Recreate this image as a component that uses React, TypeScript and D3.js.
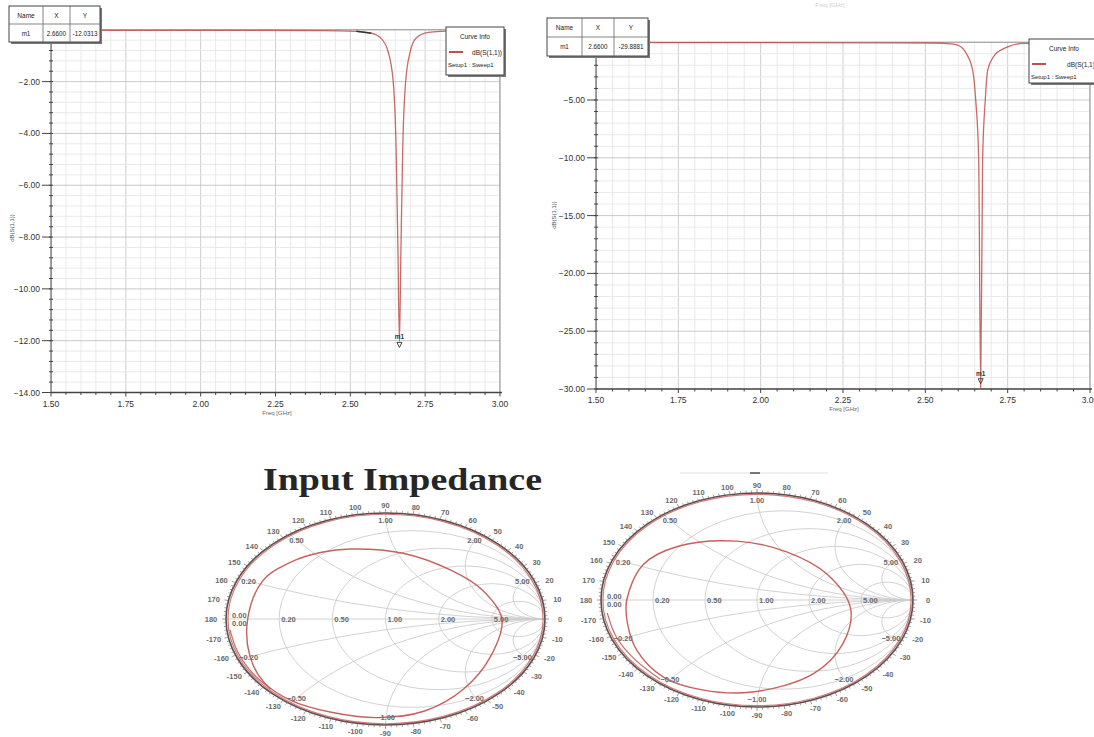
import React from "react";
import * as d3 from "d3";

const W = 1094;
const H = 737;
const FONT = "'Liberation Sans', Arial, sans-serif";
const RED = "#c0504d";

// ---------------- data: S11 sweeps (GHz, dB) ----------------
const leftFreq = [1.5, 2.0, 2.4, 2.52, 2.57, 2.6, 2.625, 2.643, 2.653, 2.659, 2.664, 2.669, 2.675, 2.685, 2.7, 2.72, 2.76, 2.85, 3.0];
const leftDb = [-0.02, -0.02, -0.03, -0.06, -0.13, -0.3, -0.8, -1.97, -4.6, -8.5, -12.03, -8.5, -4.6, -1.97, -0.85, -0.32, -0.1, -0.04, -0.02];

const rightFreq = [1.5, 2.0, 2.4, 2.52, 2.58, 2.604, 2.625, 2.644, 2.653, 2.662, 2.668, 2.674, 2.682, 2.689, 2.711, 2.735, 2.756, 2.8, 2.9, 3.0];
const rightDb = [-0.04, -0.04, -0.05, -0.07, -0.15, -0.33, -1.0, -2.47, -5.0, -10.1, -29.89, -10.1, -5.0, -2.47, -1.1, -0.6, -0.33, -0.1, -0.05, -0.04];

const xTicks = [1.5, 1.75, 2.0, 2.25, 2.5, 2.75, 3.0];
const leftYTicks = [-2, -4, -6, -8, -10, -12, -14];
const rightYTicks = [-5, -10, -15, -20, -25, -30];

const leftTableHead = ["Name", "X", "Y"];
const leftTableRow = ["m1", "2.6600", "-12.0313"];
const rightTableHead = ["Name", "X", "Y"];
const rightTableRow = ["m1", "2.6600", "-29.8881"];

const curveName = "dB(S(1,1))";
const setupName = "Setup1 : Sweep1";
const xTitle = "Freq [GHz]";

// ---------------- data: Smith charts ----------------
const smithR = [0.2, 0.5, 1, 2, 5];
const smithX = [0.2, 0.5, 1, 2, 5];
const smithAngles = [-170, -160, -150, -140, -130, -120, -110, -100, -90, -80, -70, -60, -50, -40, -30, -20, -10, 0, 10, 20, 30, 40, 50, 60, 70, 80, 90, 100, 110, 120, 130, 140, 150, 160, 170, 180];

// reflection coefficient (re, im) of the resonance loops
const leftLoopRe = [-0.864, -0.77, -0.59, -0.4, -0.22, 0.11, 0.41, 0.61, 0.73, 0.66, 0.49, 0.24, -0.05, -0.34, -0.59, -0.76, -0.85];
const leftLoopIm = [0, 0.36, 0.54, 0.63, 0.66, 0.62, 0.46, 0.27, 0, -0.35, -0.66, -0.87, -0.93, -0.88, -0.77, -0.6, -0.35];
const leftConnRe = [-0.975, -0.93, -0.84, -0.72];
const leftConnIm = [-0.1, -0.3, -0.5, -0.66];

const rightLoopRe = [-0.835, -0.73, -0.51, -0.13, 0.19, 0.45, 0.6, 0.55, 0.36, -0.03, -0.35, -0.6, -0.77, -0.83];
const rightLoopIm = [0, 0.33, 0.5, 0.55, 0.45, 0.24, -0.08, -0.41, -0.69, -0.86, -0.84, -0.72, -0.47, -0.22];
const rightConnRe = [-0.96, -0.9, -0.78, -0.62];
const rightConnIm = [-0.12, -0.35, -0.56, -0.74];

// ---------------- components ----------------
function Table({ x, y, w, h, cols, head, row }: any) {
  const edges = [x, ...cols, x + w];
  const centers = edges.slice(0, -1).map((e: number, i: number) => (e + edges[i + 1]) / 2);
  return (
    <g>
      <rect x={x + 2} y={y + 2} width={w} height={h} fill="#777" />
      <rect x={x} y={y} width={w} height={h} fill="#fff" stroke="#444" strokeWidth={1} />
      <line x1={x} x2={x + w} y1={y + h / 2} y2={y + h / 2} stroke="#666" strokeWidth={0.8} />
      {cols.map((c: number) => (
        <line key={c} x1={c} x2={c} y1={y} y2={y + h} stroke="#666" strokeWidth={0.8} />
      ))}
      {head.map((t: string, i: number) => (
        <text key={"h" + i} x={centers[i]} y={y + h / 4 + 2.5} fontSize={6.5} textAnchor="middle" fill="#222">{t}</text>
      ))}
      {row.map((t: string, i: number) => (
        <text key={"r" + i} x={centers[i]} y={y + (3 * h) / 4 + 2.5} fontSize={6.3} textAnchor="middle" fill="#222">{t}</text>
      ))}
    </g>
  );
}

function CurveInfo({ x, y, w, h }: any) {
  return (
    <g>
      <rect x={x + 2} y={y + 2} width={w} height={h} fill="#777" />
      <rect x={x} y={y} width={w} height={h} fill="#fff" stroke="#444" strokeWidth={1} />
      <text x={x + w / 2} y={y + 12} fontSize={6.5} textAnchor="middle" fill="#222">Curve Info</text>
      <line x1={x + 3} x2={x + 17} y1={y + 25} y2={y + 25} stroke={RED} strokeWidth={2} />
      <text x={x + w - 2} y={y + 27.5} fontSize={6.5} textAnchor="end" fill="#222">{curveName}</text>
      <text x={x + 2} y={y + 40} fontSize={6} textAnchor="start" fill="#222">{setupName}</text>
    </g>
  );
}

function RectPlot(p: any) {
  const x = d3.scaleLinear().domain([1.5, 3]).range([p.x0, p.x1]);
  const y = d3.scaleLinear().domain([p.yMin, 0]).range([p.y1, p.y0]);
  const minorX = d3.range(0, 31).map((i) => 1.5 + i * 0.05);
  const nMinY = Math.round(-p.yMin / p.yStep);
  const minorY = d3.range(0, nMinY + 1).map((i) => -i * p.yStep);
  const pts: [number, number][] = p.freq.map((f: number, i: number) => [x(f), y(p.db[i])]);
  const path = d3.line().curve(d3.curveMonotoneX)(pts) as string;
  const darkPts = pts.filter((_, i) => p.freq[i] >= p.dark[0] && p.freq[i] <= p.dark[1]);
  const iMin = d3.minIndex(p.db);
  const mx = x(p.freq[iMin]);
  const my = y(p.db[iMin]);
  const fmt = d3.format(".2f");
  const clipId = p.id + "-clip";
  return (
    <g fontFamily={FONT}>
      <defs>
        <clipPath id={clipId}>
          <rect x={p.x0} y={p.y0} width={p.x1 - p.x0} height={p.y1 - p.y0} />
        </clipPath>
      </defs>
      <g clipPath={`url(#${clipId})`}>
        {minorX.map((v, i) => (
          <line key={"vx" + i} x1={x(v)} x2={x(v)} y1={p.y0} y2={p.y1} stroke={i % 5 === 0 ? "#c9c9c9" : "#e6e6e6"} strokeWidth={0.9} />
        ))}
        {minorY.map((v, i) => (
          <line key={"hy" + i} x1={p.x0} x2={p.x1} y1={y(v)} y2={y(v)} stroke={p.yTicks.some((t: number) => Math.abs(t - v) < 1e-6) ? "#c4c4c4" : "#e6e6e6"} strokeWidth={0.9} />
        ))}
      </g>
      {/* frame */}
      <line x1={p.x0} x2={p.x1} y1={p.y0} y2={p.y0} stroke="#8a8a8a" strokeWidth={1} />
      <line x1={p.x1} x2={p.x1} y1={p.y0} y2={p.y1} stroke="#8a8a8a" strokeWidth={1} />
      <line x1={p.x0} x2={p.x0} y1={p.y0} y2={p.y1} stroke="#444" strokeWidth={1} />
      <line x1={p.x0} x2={p.x1 + 2} y1={p.y1} y2={p.y1} stroke="#444" strokeWidth={1.6} />
      {/* y ticks */}
      {minorY.map((v, i) => (
        <line key={"ty" + i} x1={p.x0 - 2} x2={p.x0 + 2} y1={y(v)} y2={y(v)} stroke="#444" strokeWidth={1} />
      ))}
      {p.yTicks.map((t: number) => (
        <g key={"yt" + t}>
          <line x1={p.x0 - 9} x2={p.x0} y1={y(t)} y2={y(t)} stroke="#444" strokeWidth={1} />
          <text x={p.x0 - 11} y={y(t) + 3} fontSize={8.5} textAnchor="end" fill="#333">{fmt(t)}</text>
        </g>
      ))}
      {/* x ticks */}
      {minorX.map((v, i) => (
        <line key={"tx" + i} x1={x(v)} x2={x(v)} y1={p.y1} y2={p.y1 + (i % 5 === 0 ? 4 : 2.5)} stroke="#444" strokeWidth={1} />
      ))}
      {xTicks.map((t) => (
        <text key={"xt" + t} x={x(t)} y={p.y1 + 14} fontSize={8.5} textAnchor="middle" fill="#333">{fmt(t)}</text>
      ))}
      <text x={p.xTitleX} y={p.y1 + 22} fontSize={6} textAnchor="middle" fill="#666">{xTitle}</text>
      <text transform={`translate(${p.yTitleX},${p.yTitleY}) rotate(-90)`} fontSize={6} textAnchor="middle" fill="#555">{curveName}</text>
      {/* curve */}
      <path d={path} fill="none" stroke={RED} strokeOpacity={0.85} strokeWidth={1.3} />
      <path d={d3.line()(darkPts) as string} fill="none" stroke="#333" strokeWidth={1.5} />
      {/* marker */}
      <text x={mx} y={my + p.mOff} fontSize={6.5} textAnchor="middle" fill="#333" fontWeight="bold">m1</text>
      <path d={`M${mx - 2.5},${my + p.mOff + 3} L${mx + 2.5},${my + p.mOff + 3} L${mx},${my + p.mOff + 8} Z`} fill="none" stroke="#333" strokeWidth={0.9} />
      <Table {...p.table} />
      <CurveInfo {...p.info} />
    </g>
  );
}

function Smith(p: any) {
  const { cx, cy, rx, ry, id } = p;
  const sx = (u: number) => cx + u * rx;
  const sy = (v: number) => cy - v * ry;
  const loopPts: [number, number][] = p.loopRe.map((u: number, i: number) => [sx(u), sy(p.loopIm[i])]);
  const loopPath = d3.line().curve(d3.curveCatmullRomClosed.alpha(0.5))(loopPts) as string;
  const connPts: [number, number][] = p.connRe.map((u: number, i: number) => [sx(u), sy(p.connIm[i])]);
  const connPath = d3.line().curve(d3.curveCatmullRom)(connPts) as string;
  const fmt = d3.format(".2f");
  const clipId = id + "-uc";
  const grid = "#cdcdcd";
  const ticks = d3.range(0, 180).map((i) => i * 2);
  return (
    <g fontFamily={FONT}>
      <g transform={`translate(${cx},${cy}) scale(${rx},${-ry})`}>
        <defs>
          <clipPath id={clipId}>
            <circle cx={0} cy={0} r={1} />
          </clipPath>
        </defs>
        <g clipPath={`url(#${clipId})`}>
          {smithR.map((r) => (
            <circle key={"r" + r} cx={r / (1 + r)} cy={0} r={1 / (1 + r)} fill="none" stroke={grid} strokeWidth={0.9} vectorEffect="non-scaling-stroke" />
          ))}
          {smithX.flatMap((xv) => [xv, -xv]).map((xv) => (
            <circle key={"x" + xv} cx={1} cy={1 / xv} r={1 / Math.abs(xv)} fill="none" stroke={grid} strokeWidth={0.9} vectorEffect="non-scaling-stroke" />
          ))}
          <line x1={-1} x2={1} y1={0} y2={0} stroke={grid} strokeWidth={0.9} vectorEffect="non-scaling-stroke" />
        </g>
        <circle cx={0} cy={0} r={1} fill="none" stroke="#5d4c4c" strokeWidth={1.6} vectorEffect="non-scaling-stroke" />
        <circle cx={0} cy={0} r={0.988} fill="none" stroke={RED} strokeOpacity={0.75} strokeWidth={1.2} vectorEffect="non-scaling-stroke" />
      </g>
      {/* rim ticks */}
      {ticks.map((a) => {
        const t = (a * Math.PI) / 180;
        const len = a % 10 === 0 ? 4 : 2.5;
        return (
          <line key={"t" + a} x1={cx + rx * Math.cos(t)} y1={cy - ry * Math.sin(t)} x2={cx + (rx + len) * Math.cos(t)} y2={cy - (ry + len) * Math.sin(t)} stroke="#777" strokeWidth={0.7} />
        );
      })}
      {/* trace */}
      <path d={connPath} fill="none" stroke={RED} strokeOpacity={0.85} strokeWidth={1.2} />
      <path d={loopPath} fill="none" stroke={RED} strokeOpacity={0.9} strokeWidth={1.4} />
      {/* angle labels */}
      {smithAngles.map((a) => {
        const t = (a * Math.PI) / 180;
        return (
          <text key={"a" + a} x={cx + (rx + 15) * Math.cos(t)} y={cy - (ry + 8) * Math.sin(t) + 2.8} fontSize={7.5} fontWeight="bold" textAnchor="middle" fill="#6a6a6a">{a}</text>
        );
      })}
      {/* reactance labels */}
      {smithX.flatMap((xv) => [xv, -xv]).map((xv) => {
        const u = (xv * xv - 1) / (xv * xv + 1);
        const v = (2 * xv) / (xv * xv + 1);
        return (
          <text key={"xl" + xv} x={sx(u * 0.93)} y={sy(v * 0.93) + 2.8} fontSize={7.5} fontWeight="bold" textAnchor="middle" fill="#6a6a6a">{fmt(xv)}</text>
        );
      })}
      {/* resistance labels */}
      {smithR.map((r) => (
        <text key={"rl" + r} x={sx((r - 1) / (r + 1)) + 2} y={cy + 2.8} fontSize={7.5} fontWeight="bold" textAnchor="start" fill="#6a6a6a">{fmt(r)}</text>
      ))}
      <text x={sx(-1) + 6} y={cy - 1} fontSize={7.5} fontWeight="bold" fill="#6a6a6a">{fmt(0)}</text>
      <text x={sx(-1) + 6} y={cy + 7} fontSize={7.5} fontWeight="bold" fill="#6a6a6a">{fmt(0)}</text>
    </g>
  );
}

export default function App() {
  return (
    <svg width={W} height={H} viewBox={`0 0 ${W} ${H}`} style={{ position: "absolute", left: 0, top: 0, background: "#fff", overflow: "hidden" }}>
      <rect width={W} height={H} fill="#fff" />
      <text x={830} y={7} fontSize={6} textAnchor="middle" fill="#cfcfcf" fontFamily={FONT}>{xTitle}</text>
      <RectPlot
        id="left"
        x0={51} x1={500} y0={29.8} y1={392.5}
        yMin={-14} yStep={0.4} yTicks={leftYTicks}
        freq={leftFreq} db={leftDb} dark={[2.49, 2.58]}
        mOff={-2}
        xTitleX={277} yTitleX={14} yTitleY={228}
        table={{ x: 9, y: 6, w: 91, h: 36, cols: [43, 70], head: leftTableHead, row: leftTableRow }}
        info={{ x: 446, y: 27, w: 58, h: 48 }}
      />
      <RectPlot
        id="right"
        x0={596} x1={1090} y0={42.2} y1={389}
        yMin={-30} yStep={1} yTicks={rightYTicks}
        freq={rightFreq} db={rightDb} dark={[2.53, 2.6]}
        mOff={-12}
        xTitleX={844} yTitleX={556} yTitleY={215}
        table={{ x: 547, y: 18, w: 101, h: 38, cols: [582, 614], head: rightTableHead, row: rightTableRow }}
        info={{ x: 1029, y: 39, w: 70, h: 44 }}
      />
      <text x={402.5} y={490} fontFamily="'Liberation Serif', 'Times New Roman', serif" fontWeight="bold" fontSize={31} textAnchor="middle" textLength={279} lengthAdjust="spacingAndGlyphs" fill="#262626">Input Impedance</text>
      <line x1={680} x2={828} y1={473} y2={473} stroke="#e2e2e2" strokeWidth={1} />
      <line x1={750} x2={760} y1={473} y2={473} stroke="#777" strokeWidth={2} />
      <Smith id="s1" cx={385.5} cy={619} rx={159.5} ry={106} loopRe={leftLoopRe} loopIm={leftLoopIm} connRe={leftConnRe} connIm={leftConnIm} />
      <Smith id="s2" cx={757} cy={600} rx={156} ry={107} loopRe={rightLoopRe} loopIm={rightLoopIm} connRe={rightConnRe} connIm={rightConnIm} />
    </svg>
  );
}
